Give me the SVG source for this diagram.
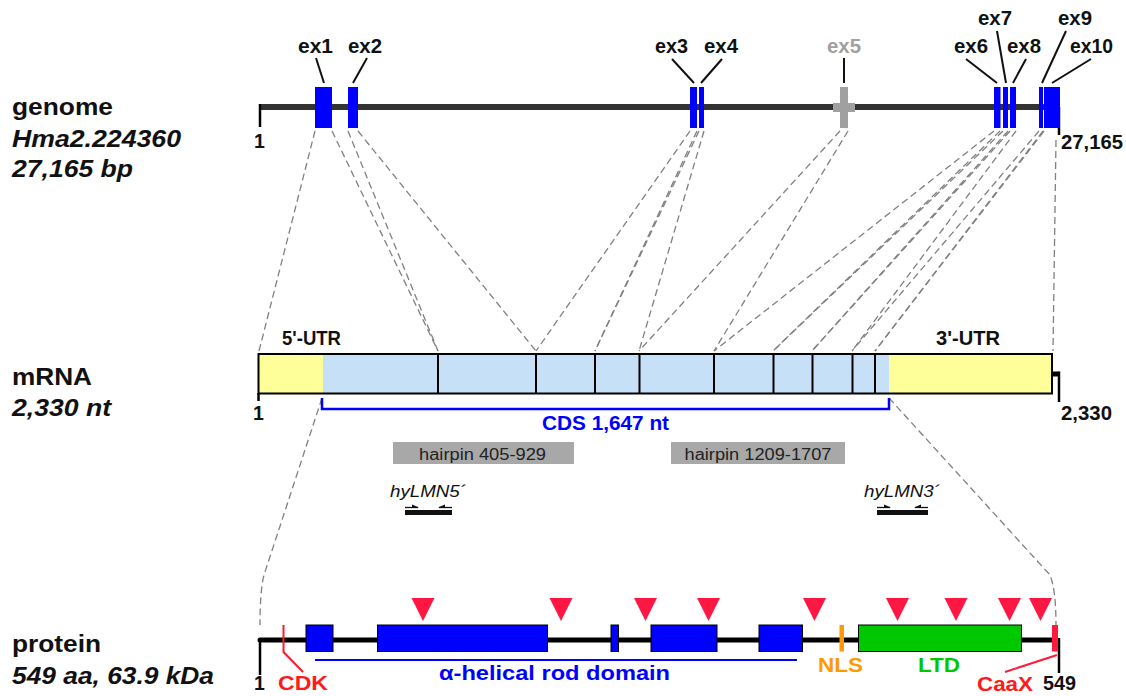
<svg xmlns="http://www.w3.org/2000/svg" width="1126" height="696" viewBox="0 0 1126 696">
<style>
.lbl{font-family:"Liberation Sans",Arial,sans-serif;font-weight:bold;font-size:23px;fill:#111}
.it{font-style:italic}
.ex{font-family:"Liberation Sans",Arial,sans-serif;font-weight:bold;font-size:19.5px;fill:#111}
.num{font-family:"Liberation Sans",Arial,sans-serif;font-weight:bold;font-size:19.5px;fill:#111}
.hp{font-family:"Liberation Sans",Arial,sans-serif;font-size:16px;fill:#222}
.pr{font-family:"Liberation Sans",Arial,sans-serif;font-style:italic;font-size:17px;fill:#111}
.dom{font-family:"Liberation Sans",Arial,sans-serif;font-weight:bold;font-size:20px}
.lead{stroke:#111;stroke-width:2;fill:none}
.dash{stroke:#808080;stroke-width:1.3;stroke-dasharray:7 4;fill:none}
.exon{fill:#0000ff}
.pbox{fill:#0000ff;stroke:#000;stroke-width:1}
.tick{stroke:#000;stroke-width:2.5;fill:none}
.tri{fill:#ff1744}
</style>

<!-- left labels -->
<g id="label-genome">
<text class="lbl" x="12" y="115" textLength="101" lengthAdjust="spacingAndGlyphs">genome</text>
<text class="lbl it" x="12" y="147" textLength="169" lengthAdjust="spacingAndGlyphs">Hma2.224360</text>
<text class="lbl it" x="12" y="177" textLength="121" lengthAdjust="spacingAndGlyphs">27,165 bp</text>
</g>
<g id="label-mrna">
<text class="lbl" x="12" y="385" textLength="80" lengthAdjust="spacingAndGlyphs">mRNA</text>
<text class="lbl it" x="12" y="416" textLength="99" lengthAdjust="spacingAndGlyphs">2,330 nt</text>
</g>
<g id="label-protein">
<text class="lbl" x="12" y="652" textLength="89" lengthAdjust="spacingAndGlyphs">protein</text>
<text class="lbl it" x="12" y="684" textLength="202" lengthAdjust="spacingAndGlyphs">549 aa, 63.9 kDa</text>
</g>

<!-- connectors -->
<g id="connectors">
<path class="dash" d="M315,131 L259,351"/>
<path class="dash" d="M332,131 L438,351"/>
<path class="dash" d="M348,131 L438,351"/>
<path class="dash" d="M358,131 L536,351"/>
<path class="dash" d="M690,131 L536,351"/>
<path class="dash" d="M697,131 L595,351"/>
<path class="dash" d="M699,131 L595,351"/>
<path class="dash" d="M704,131 L639,351"/>
<path class="dash" d="M840,131 L639,351"/>
<path class="dash" d="M848,131 L714,351"/>
<path class="dash" d="M994,131 L714,351"/>
<path class="dash" d="M1000,131 L773,351"/>
<path class="dash" d="M1003,131 L773,351"/>
<path class="dash" d="M1008,131 L812,351"/>
<path class="dash" d="M1010,131 L812,351"/>
<path class="dash" d="M1016,131 L852,351"/>
<path class="dash" d="M1039,131 L852,351"/>
<path class="dash" d="M1043,131 L875,351"/>
<path class="dash" d="M1044,131 L875,351"/>
<path class="dash" d="M1056,140 L1053,351"/>
<path class="dash" d="M322,398 L264,575 Q260,590 260,625"/>
<path class="dash" d="M889,398 L1050,575 Q1056,590 1056,625"/>
</g>

<!-- genome -->
<g id="genome">
<line x1="260" y1="107" x2="1059" y2="107" stroke="#333" stroke-width="6"/>
<path class="tick" d="M260,104 V127"/>
<path class="tick" d="M1059,107 V135"/>
<text class="num" x="254" y="148">1</text>
<text class="num" x="1061" y="149" textLength="62" lengthAdjust="spacingAndGlyphs">27,165</text>
</g>

<g id="ex1"><rect class="exon" x="315" y="87" width="17" height="41"/><path class="lead" d="M316,58 L324,83"/><text class="ex" x="298" y="53" textLength="35" lengthAdjust="spacingAndGlyphs">ex1</text></g>
<g id="ex2"><rect class="exon" x="348" y="87" width="10" height="41"/><path class="lead" d="M367,58 L353,83"/><text class="ex" x="348" y="53" textLength="34" lengthAdjust="spacingAndGlyphs">ex2</text></g>
<g id="ex3"><rect class="exon" x="690" y="87" width="7" height="41"/><path class="lead" d="M672,59 L694,83"/><text class="ex" x="655" y="53" textLength="33" lengthAdjust="spacingAndGlyphs">ex3</text></g>
<g id="ex4"><rect class="exon" x="699" y="87" width="5" height="41"/><path class="lead" d="M722,59 L701,83"/><text class="ex" x="704" y="53" textLength="34" lengthAdjust="spacingAndGlyphs">ex4</text></g>
<g id="ex5"><rect x="840" y="87" width="8" height="41" fill="#a0a0a0"/><rect x="833" y="103" width="22" height="9" fill="#a0a0a0"/><path class="lead" d="M844,58 V83"/><text class="ex" x="827" y="53" textLength="34" lengthAdjust="spacingAndGlyphs" style="fill:#a0a0a0">ex5</text></g>
<g id="ex6"><rect class="exon" x="994" y="87" width="6.5" height="41"/><path class="lead" d="M966,59 L997,83"/><text class="ex" x="954" y="53" textLength="34" lengthAdjust="spacingAndGlyphs">ex6</text></g>
<g id="ex7"><rect class="exon" x="1003" y="87" width="5" height="41"/><path class="lead" d="M997,31 L1006,83"/><text class="ex" x="978" y="25" textLength="34" lengthAdjust="spacingAndGlyphs">ex7</text></g>
<g id="ex8"><rect class="exon" x="1010" y="87" width="6" height="41"/><path class="lead" d="M1026,59 L1013,83"/><text class="ex" x="1007" y="53" textLength="34" lengthAdjust="spacingAndGlyphs">ex8</text></g>
<g id="ex9"><rect class="exon" x="1039" y="87" width="4" height="41"/><path class="lead" d="M1066,31 L1042,83"/><text class="ex" x="1058" y="25" textLength="34" lengthAdjust="spacingAndGlyphs">ex9</text></g>
<g id="ex10"><rect class="exon" x="1044" y="87" width="16" height="41"/><path class="lead" d="M1091,59 L1052,83"/><text class="ex" x="1070" y="53" textLength="43" lengthAdjust="spacingAndGlyphs">ex10</text></g>

<!-- mRNA -->
<g id="mrna">
<rect x="258.5" y="354" width="64.5" height="39.5" fill="#ffff99"/>
<rect x="323" y="354" width="566" height="39.5" fill="#c6e0f7"/>
<rect x="889" y="354" width="163" height="39.5" fill="#ffff99"/>
<g stroke="#000" stroke-width="2">
<line x1="438" y1="354" x2="438" y2="393.5"/>
<line x1="536" y1="354" x2="536" y2="393.5"/>
<line x1="595" y1="354" x2="595" y2="393.5"/>
<line x1="639.5" y1="354" x2="639.5" y2="393.5"/>
<line x1="714" y1="354" x2="714" y2="393.5"/>
<line x1="773.5" y1="354" x2="773.5" y2="393.5"/>
<line x1="812.5" y1="354" x2="812.5" y2="393.5"/>
<line x1="852.5" y1="354" x2="852.5" y2="393.5"/>
<line x1="875" y1="354" x2="875" y2="393.5"/>
</g>
<rect x="258.5" y="354" width="793.5" height="39.5" fill="none" stroke="#000" stroke-width="2"/>
<line x1="1052" y1="374" x2="1059" y2="374" stroke="#000" stroke-width="5"/>
<path class="tick" d="M1059,371.5 V402"/>
<path class="tick" d="M258.5,393 V401"/>
<text class="num" x="253" y="420">1</text>
<text class="num" x="1061" y="420" textLength="51" lengthAdjust="spacingAndGlyphs">2,330</text>
<text class="ex" x="282" y="345" textLength="59" lengthAdjust="spacingAndGlyphs">5'-UTR</text>
<text class="ex" x="936" y="345" textLength="64" lengthAdjust="spacingAndGlyphs">3'-UTR</text>
</g>

<g id="cds">
<path d="M322,398 V409 H889 V398" fill="none" stroke="#0000ff" stroke-width="2.5"/>
<text class="dom" x="542" y="430" textLength="127" lengthAdjust="spacingAndGlyphs" fill="#0000ff">CDS 1,647 nt</text>
</g>

<g id="hairpin1">
<rect x="393" y="442" width="181" height="22" fill="#a8a8a8"/>
<text class="hp" x="419" y="460" textLength="127" lengthAdjust="spacingAndGlyphs">hairpin 405-929</text>
</g>
<g id="hairpin2">
<rect x="671" y="442" width="174" height="22" fill="#a8a8a8"/>
<text class="hp" x="684.5" y="460" textLength="147" lengthAdjust="spacingAndGlyphs">hairpin 1209-1707</text>
</g>

<g id="primer5">
<text class="pr" x="390" y="497" textLength="76" lengthAdjust="spacingAndGlyphs">hyLMN5´</text>
<rect x="405" y="510" width="47" height="5" fill="#111"/>
<path d="M405,507.5 H418" stroke="#111" stroke-width="1.3"/>
<path d="M412,504.5 L419,507.5 L412,508 Z" fill="#111"/>
<path d="M452,507.5 H439" stroke="#111" stroke-width="1.3"/>
<path d="M445,504.5 L438,507.5 L445,508 Z" fill="#111"/>
</g>
<g id="primer3">
<text class="pr" x="864" y="497" textLength="76" lengthAdjust="spacingAndGlyphs">hyLMN3´</text>
<rect x="877" y="510" width="51" height="5" fill="#111"/>
<path d="M877,507.5 H890" stroke="#111" stroke-width="1.3"/>
<path d="M884,504.5 L891,507.5 L884,508 Z" fill="#111"/>
<path d="M928,507.5 H915" stroke="#111" stroke-width="1.3"/>
<path d="M921,504.5 L914,507.5 L921,508 Z" fill="#111"/>
</g>

<!-- protein -->
<g id="protein">
<line x1="260" y1="640" x2="1056" y2="640" stroke="#000" stroke-width="5" stroke-linecap="round"/>
<path class="tick" d="M260,638 V675"/>
<path class="tick" d="M1059,638 V673"/>
<text class="num" x="254" y="690">1</text>
<text class="num" x="1043" y="690" textLength="33" lengthAdjust="spacingAndGlyphs">549</text>
<rect class="pbox" x="306" y="625" width="27" height="26.5"/>
<rect class="pbox" x="377.5" y="625" width="170" height="26.5"/>
<rect class="pbox" x="611" y="625" width="7.5" height="26.5"/>
<rect class="pbox" x="651" y="625" width="66" height="26.5"/>
<rect class="pbox" x="759" y="625" width="43.5" height="26.5"/>
</g>
<g id="rod-domain">
<line x1="315" y1="660" x2="797" y2="660" stroke="#0000ff" stroke-width="2"/>
<text class="dom" x="439" y="680" textLength="231" lengthAdjust="spacingAndGlyphs" fill="#0000ff">α-helical rod domain</text>
</g>
<g id="nls">
<rect x="839.5" y="625" width="4.5" height="26.5" fill="#ff9900"/>
<text class="dom" x="818" y="672" textLength="45" lengthAdjust="spacingAndGlyphs" fill="#ff9900">NLS</text>
</g>
<g id="ltd">
<rect x="858.5" y="625" width="163" height="26.5" fill="#00c800" stroke="#000" stroke-width="1"/>
<text class="dom" x="918" y="672" textLength="42" lengthAdjust="spacingAndGlyphs" fill="#00c800">LTD</text>
</g>
<g id="cdk">
<path d="M283.5,625 V652 L303,672" fill="none" stroke="#ff1a2a" stroke-width="2"/>
<text class="dom" x="278" y="690" textLength="50" lengthAdjust="spacingAndGlyphs" fill="#ff1a1a" style="font-size:21px">CDK</text>
</g>
<g id="caax">
<rect x="1052" y="625" width="6" height="26.5" fill="#ff1a3a"/>
<path d="M1057,655 L1005,672" fill="none" stroke="#ff1a3a" stroke-width="2"/>
<text class="dom" x="977" y="691" textLength="56" lengthAdjust="spacingAndGlyphs" fill="#ff1a1a" style="font-size:21px">CaaX</text>
</g>
<g id="sites">
<path class="tri" d="M411.5,598 H434.5 L423,621 Z"/>
<path class="tri" d="M549.5,598 H572.5 L561,621 Z"/>
<path class="tri" d="M634,598 H657 L645.5,621 Z"/>
<path class="tri" d="M697,598 H720 L708.5,621 Z"/>
<path class="tri" d="M803,598 H826 L814.5,621 Z"/>
<path class="tri" d="M886,598 H909 L897.5,621 Z"/>
<path class="tri" d="M944.5,598 H967.5 L956,621 Z"/>
<path class="tri" d="M998,598 H1021 L1009.5,621 Z"/>
<path class="tri" d="M1029,598 H1052 L1040.5,621 Z"/>
</g>
</svg>
